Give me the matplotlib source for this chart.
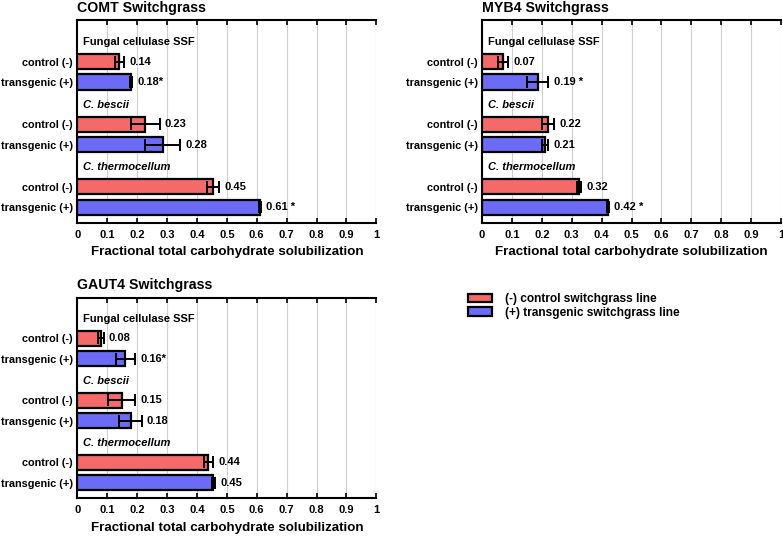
import numpy as np
import matplotlib.pyplot as plt
from matplotlib.patches import Patch

plt.rcParams['font.family'] = ['Liberation Sans', 'DejaVu Sans']
plt.rcParams['font.weight'] = 'bold'

RED = '#F46A6A'
BLUE = '#6B6BF6'

groups = ["Fungal cellulase SSF", "C. bescii", "C. thermocellum"]
group_italic = [False, True, True]
row_labels = ["control (-)", "transgenic (+)"]

# values per panel: [group][control, transgenic]
comt_vals = [[0.14, 0.18], [0.228, 0.285], [0.455, 0.61]]
comt_errs = [[0.015, 0.003], [0.047, 0.06], [0.02, 0.003]]
comt_text = [["0.14", "0.18*"], ["0.23", "0.28"], ["0.45", "0.61 *"]]

myb4_vals = [[0.07, 0.186], [0.22, 0.21], [0.325, 0.42]]
myb4_errs = [[0.017, 0.035], [0.02, 0.01], [0.007, 0.003]]
myb4_text = [["0.07", "0.19 *"], ["0.22", "0.21"], ["0.32", "0.42 *"]]

gaut4_vals = [[0.078, 0.16], [0.148, 0.178], [0.438, 0.455]]
gaut4_errs = [[0.01, 0.032], [0.045, 0.037], [0.015, 0.006]]
gaut4_text = [["0.08", "0.16*"], ["0.15", "0.18"], ["0.44", "0.45"]]

titles = ["COMT Switchgrass", "MYB4 Switchgrass", "GAUT4 Switchgrass"]
xticks = np.round(np.arange(0, 1.01, 0.1), 1)
xticklabels = ["0"] + [f"{t:.1f}" for t in xticks[1:-1]] + ["1"]
legend_labels = ["(-) control switchgrass line", "(+) transgenic switchgrass line"]


def panel(ax, title, vals, errs, texts):
    yticks, ylabels = [], []
    for g, name in enumerate(groups):
        base = 1.05 + 3.05 * g
        ax.text(0.02, base, name, fontsize=8, fontweight='bold',
                fontstyle='italic' if group_italic[g] else 'normal',
                va='center', ha='left')
        for r in range(2):
            y = base + 0.95 + r
            v, e = vals[g][r], errs[g][r]
            ax.barh(y, v, height=0.74, color=[RED, BLUE][r], edgecolor='black',
                    linewidth=1.6, zorder=3)
            ax.errorbar(v, y, xerr=e, fmt='none', ecolor='black', elinewidth=1.4,
                        capsize=4.5, capthick=1.4, zorder=4)
            ax.text(v + e + 0.018, y, texts[g][r], fontsize=8, fontweight='bold',
                    va='center', ha='left')
            yticks.append(y)
            ylabels.append(row_labels[r])
    ax.set_ylim(9.85, 0)
    ax.set_xlim(0, 1)
    ax.set_yticks(yticks)
    ax.set_yticklabels(ylabels, fontsize=7.8, fontweight='bold')
    ax.tick_params(axis='y', length=0, pad=3)
    ax.set_xticks(xticks)
    ax.set_xticklabels(xticklabels, fontsize=8, fontweight='bold')
    ax.tick_params(axis='x', direction='in', top=True, length=3.5, width=1.2, pad=5)
    ax.grid(axis='x', color='#cfcfcf', linewidth=0.8, zorder=0)
    ax.set_axisbelow(True)
    for s in ['left', 'bottom', 'top']:
        ax.spines[s].set_linewidth(1.5)
    ax.spines['right'].set_visible(False)
    ax.set_xlabel("Fractional total carbohydrate solubilization", fontsize=9.6,
                  fontweight='bold', labelpad=5)
    ax.set_title(title, fontsize=10.2, fontweight='bold', loc='left', pad=6)


fig = plt.figure(figsize=(7.83, 5.39), dpi=100)
ax1 = fig.add_axes([0.0987, 0.587, 0.382, 0.375])
ax2 = fig.add_axes([0.6156, 0.587, 0.382, 0.375])
ax3 = fig.add_axes([0.0987, 0.076, 0.382, 0.372])

panel(ax1, titles[0], comt_vals, comt_errs, comt_text)
panel(ax2, titles[1], myb4_vals, myb4_errs, myb4_text)
panel(ax3, titles[2], gaut4_vals, gaut4_errs, gaut4_text)

handles = [Patch(facecolor=RED, edgecolor='black', linewidth=1.6),
           Patch(facecolor=BLUE, edgecolor='black', linewidth=1.6)]
fig.legend(handles, legend_labels, loc='upper left', bbox_to_anchor=(0.584, 0.476),
           frameon=False, prop={'weight': 'bold', 'size': 8.6},
           handlelength=2.0, handleheight=0.75, labelspacing=0.12, handletextpad=1.1)

fig.savefig("out.png", dpi=100)
